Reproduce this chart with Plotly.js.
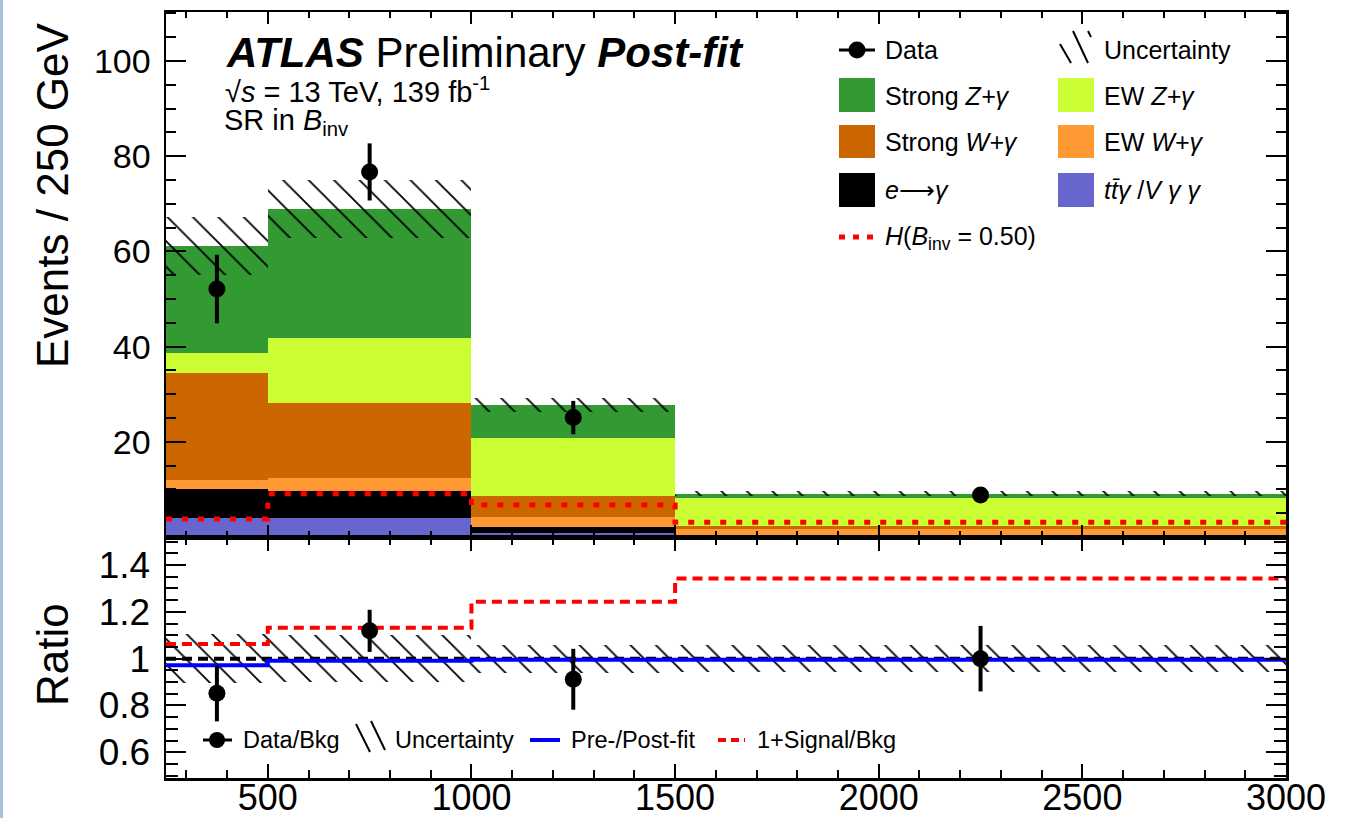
<!DOCTYPE html>
<html><head><meta charset="utf-8">
<script src="https://cdn.plot.ly/plotly-3.0.1.min.js"></script>
<style>
html,body{margin:0;padding:0;background:#fff;}
#plot{width:1354px;height:818px;}
#edge{position:absolute;left:0;top:0;width:3px;height:818px;background:#a9c1da;}
</style>
</head><body>
<div id="plot"></div><div id="edge"></div>
<script>
// ---------------- data ----------------
const binEdges = [250, 500, 1000, 1500, 3000];
const ttgVgg = [4.0, 4.0, 0.9, 0.05];
const eFakeGamma = [6.1, 5.6, 1.2, 0.05];
const ewWgamma = [1.8, 2.8, 2.1, 1.6];
const strongWgamma = [22.6, 15.8, 4.4, 0.6];
const ewZgamma = [4.2, 13.6, 12.2, 5.8];
const strongZgamma = [22.5, 27.1, 6.9, 1.0];
const bkgUncertainty = [6.1, 6.1, 1.5, 0.5];
const dataCounts = [52.1, 76.7, 25.1, 8.8];
const dataErrors = [7.2, 6.0, 3.5, 1.2];
const signalH050 = [3.8, 9.1, 6.7, 3.1];
const ratioData = [0.852, 1.119, 0.912, 1.0];
const ratioDataErr = [0.12, 0.09, 0.13, 0.14];
const ratioUncertainty = [0.105, 0.10, 0.06, 0.057];
const ratioPrePost = [0.972, 0.991, 0.995, 0.995];
const ratioSignal = [1.063, 1.132, 1.243, 1.343];
const ratioReference = 1;
const topTickVals = [0, 20, 40, 60, 80, 100];
const topTickText = ['', '20', '40', '60', '80', '100'];
const ratioTickVals = [0.6, 0.8, 1, 1.2, 1.4];
const ratioTickText = ['0.6', '0.8', '1', '1.2', '1.4'];

// ---------------- helpers ----------------
const centers = binEdges.slice(0, -1).map((e, i) => (e + binEdges[i + 1]) / 2);
const widths = binEdges.slice(0, -1).map((e, i) => binEdges[i + 1] - e);
const stepY = v => v.concat([v[v.length - 1]]);
const total = centers.map((_, i) => ttgVgg[i] + eFakeGamma[i] + ewWgamma[i] + strongWgamma[i] + ewZgamma[i] + strongZgamma[i]);

const FONT = 'Liberation Sans, Arial, Helvetica, sans-serif';
const L = 166, R = 1286, T = 12, B = 778, W = 1354, H = 818;
const px = x => (x - L) / (R - L);
const py = y => (B - y) / (B - T);
const splitFrac = (B - 537) / (B - T);

const hatch = {shape: '\\', fgcolor: '#000', fgopacity: 1, bgcolor: 'rgba(0,0,0,0)', size: 18, solidity: 0.1, fillmode: 'overlay'};

function stackBar(name, vals, color) {
  return {type: 'bar', name: name, x: centers, y: vals, width: widths, xaxis: 'x', yaxis: 'y',
    marker: {color: color, line: {width: 0}}, showlegend: false, hoverinfo: 'skip'};
}

const traces = [
  stackBar('ttgamma/Vgammagamma', ttgVgg, '#6666cc'),
  stackBar('e->gamma', eFakeGamma, '#000000'),
  stackBar('EW W+gamma', ewWgamma, '#ff9933'),
  stackBar('Strong W+gamma', strongWgamma, '#cc6600'),
  stackBar('EW Z+gamma', ewZgamma, '#ccff33'),
  stackBar('Strong Z+gamma', strongZgamma, '#339933'),
  {type: 'bar', name: 'Uncertainty', x: centers, width: widths,
   base: total.map((t, i) => t - bkgUncertainty[i]), y: bkgUncertainty.map(u => 2 * u),
   xaxis: 'x', yaxis: 'y', marker: {color: 'rgba(0,0,0,0)', line: {width: 0}, pattern: hatch},
   showlegend: false, hoverinfo: 'skip'},
  {type: 'scatter', mode: 'lines', name: 'H(Binv=0.50)', x: binEdges, y: stepY(signalH050),
   xaxis: 'x', yaxis: 'y', line: {shape: 'hv', color: '#ff0000', width: 5, dash: '6px,10px'},
   showlegend: false, hoverinfo: 'skip'},
  {type: 'scatter', mode: 'markers', name: 'Data', x: centers, y: dataCounts, xaxis: 'x', yaxis: 'y',
   marker: {color: '#000', size: 17},
   error_y: {type: 'data', array: dataErrors, color: '#000', thickness: 4, width: 0},
   showlegend: false, hoverinfo: 'skip'},
  // ratio panel
  {type: 'bar', name: 'Uncertainty ratio', x: centers, width: widths,
   base: ratioUncertainty.map(u => ratioReference - u), y: ratioUncertainty.map(u => 2 * u),
   xaxis: 'x2', yaxis: 'y2', marker: {color: 'rgba(0,0,0,0)', line: {width: 0}, pattern: hatch},
   showlegend: false, hoverinfo: 'skip'},
  {type: 'scatter', mode: 'lines', name: 'unity', x: [binEdges[0], binEdges[binEdges.length - 1]],
   y: [ratioReference, ratioReference], xaxis: 'x2', yaxis: 'y2',
   line: {color: '#000', width: 4, dash: '10px,6px'}, showlegend: false, hoverinfo: 'skip'},
  {type: 'scatter', mode: 'lines', name: '1+Signal/Bkg', x: binEdges, y: stepY(ratioSignal),
   xaxis: 'x2', yaxis: 'y2', line: {shape: 'hv', color: '#ff0000', width: 4, dash: '10px,6px'},
   showlegend: false, hoverinfo: 'skip'},
  {type: 'scatter', mode: 'lines', name: 'Pre-/Post-fit', x: binEdges, y: stepY(ratioPrePost),
   xaxis: 'x2', yaxis: 'y2', line: {shape: 'hv', color: '#0000ff', width: 4},
   showlegend: false, hoverinfo: 'skip'},
  {type: 'scatter', mode: 'markers', name: 'Data/Bkg', x: centers, y: ratioData, xaxis: 'x2', yaxis: 'y2',
   marker: {color: '#000', size: 17},
   error_y: {type: 'data', array: ratioDataErr, color: '#000', thickness: 4, width: 0},
   showlegend: false, hoverinfo: 'skip'}
];

const axisCommon = {showline: true, linewidth: 2.5, linecolor: '#000', mirror: 'allticks',
  ticks: 'inside', tickcolor: '#000', tickwidth: 2, showgrid: false, zeroline: false, fixedrange: true};

const layout = {
  width: W, height: H, paper_bgcolor: '#fff', plot_bgcolor: '#fff',
  margin: {l: L, r: W - R, t: T, b: H - B},
  barmode: 'stack', bargap: 0,
  font: {family: FONT, color: '#000'},
  showlegend: false,
  xaxis: Object.assign({}, axisCommon, {domain: [0, 1], range: [250, 3000], anchor: 'y',
    tickmode: 'linear', tick0: 0, dtick: 500, ticklen: 12, showticklabels: false,
    minor: {ticks: 'inside', ticklen: 6, dtick: 100, tick0: 0, tickwidth: 2, tickcolor: '#000', showgrid: false}}),
  yaxis: Object.assign({}, axisCommon, {domain: [splitFrac, 1], range: [0, 110.3], anchor: 'x',
    tickmode: 'array', tickvals: topTickVals, ticktext: topTickText, ticklen: 20,
    tickfont: {size: 34, family: FONT}, ticklabelstandoff: 6,
    minor: {ticks: 'inside', ticklen: 10, dtick: 5, tick0: 0, tickwidth: 2, tickcolor: '#000', showgrid: false}}),
  xaxis2: Object.assign({}, axisCommon, {domain: [0, 1], range: [250, 3000], anchor: 'y2',
    tickmode: 'linear', tick0: 0, dtick: 500, ticklen: 14,
    tickfont: {size: 36, family: FONT}, ticklabelstandoff: -14,
    minor: {ticks: 'inside', ticklen: 8, dtick: 100, tick0: 0, tickwidth: 2, tickcolor: '#000', showgrid: false}}),
  yaxis2: Object.assign({}, axisCommon, {domain: [0, splitFrac], range: [0.49, 1.52], anchor: 'x2',
    tickmode: 'array', tickvals: ratioTickVals, ticktext: ratioTickText, ticklen: 20,
    tickfont: {size: 37, family: FONT}, ticklabelstandoff: 6,
    minor: {ticks: 'inside', ticklen: 12, dtick: 0.05, tick0: 0, tickwidth: 2, tickcolor: '#000', showgrid: false}}),
  annotations: [],
  shapes: []
};

function txt(x, y, text, size, opts) {
  layout.annotations.push(Object.assign({xref: 'paper', yref: 'paper', x: px(x), y: py(y), text: text,
    showarrow: false, xanchor: 'left', yanchor: 'middle', font: {size: size, family: FONT, color: '#000'}}, opts || {}));
}
function rect(x0, y0, x1, y1, color) {
  layout.shapes.push({type: 'rect', xref: 'paper', yref: 'paper', x0: px(x0), x1: px(x1), y0: py(y1), y1: py(y0),
    fillcolor: color, line: {width: 0}});
}
function seg(x0, y0, x1, y1, color, width, dash) {
  layout.shapes.push({type: 'line', xref: 'paper', yref: 'paper', x0: px(x0), x1: px(x1), y0: py(y0), y1: py(y1),
    line: {color: color, width: width, dash: dash || 'solid'}});
}
function dot(cx, cy, d) {
  layout.shapes.push({type: 'circle', xref: 'paper', yref: 'paper', x0: px(cx - d / 2), x1: px(cx + d / 2),
    y0: py(cy + d / 2), y1: py(cy - d / 2), fillcolor: '#000', line: {width: 0}});
}

// axis titles
txt(52, 195, 'Events / 250 GeV', 44, {textangle: -90, xanchor: 'center', yanchor: 'middle'});
txt(52, 655, 'Ratio', 44, {textangle: -90, xanchor: 'center', yanchor: 'middle'});

// ATLAS label
txt(224, 52, '<b><i>ATLAS</i></b> Preliminary <b><i>Post-fit</i></b>', 42);
txt(223, 90, '√<i>s</i> = 13 TeV, 139 fb<sup>-1</sup>', 29);
txt(222, 122, 'SR in <i>B</i><sub>inv</sub>', 29);

// main legend
const c1s = 839, c1e = 875, c2s = 1058, c2e = 1094, t1 = 883, t2 = 1102, lf = 25;
seg(c1s, 50, c1e, 50, '#000', 3); dot(857, 50, 17);
txt(t1, 50, 'Data', lf);
seg(1060, 44, 1071, 63, '#000', 2); seg(1073, 31, 1088, 63, '#000', 2); seg(1088, 31, 1091, 37, '#000', 2);
txt(t2, 50, 'Uncertainty', lf);
rect(c1s, 78, c1e, 112, '#339933'); txt(t1, 96, 'Strong <i>Z+γ</i>', lf);
rect(c2s, 78, c2e, 112, '#ccff33'); txt(t2, 96, 'EW <i>Z+γ</i>', lf);
rect(c1s, 125, c1e, 158, '#cc6600'); txt(t1, 142, 'Strong <i>W+γ</i>', lf);
rect(c2s, 125, c2e, 158, '#ff9933'); txt(t2, 142, 'EW <i>W+γ</i>', lf);
rect(c1s, 173, c1e, 207, '#000000'); txt(t1, 190, '<i>e</i>⟶<i>γ</i>', lf);
rect(c2s, 173, c2e, 207, '#6666cc'); txt(t2, 190, '<i>tt̄γ</i> /<i>V γ γ</i>', lf);
seg(c1s, 237, c1e, 237, '#ff0000', 5, '6px,8px');
txt(t1, 238, '<i>H</i>(<i>B</i><sub>inv</sub> = 0.50)', lf);

// ratio legend
const rf = 23.5, ry = 740;
seg(203, ry, 232, ry, '#000', 3); dot(217, ry, 16);
txt(241, ry, 'Data/Bkg', rf);
seg(356, 724, 370, 752, '#000', 2); seg(371, 721, 385, 750, '#000', 2);
txt(393, ry, 'Uncertainty', rf);
seg(530, ry, 560, ry, '#0000ff', 4);
txt(569, ry, 'Pre-/Post-fit', rf);
seg(718, ry, 745, ry, '#ff0000', 4, '8px,5px');
txt(755, ry, '1+Signal/Bkg', rf);

Plotly.newPlot('plot', traces, layout, {staticPlot: true, displayModeBar: false});
</script>
</body></html>
